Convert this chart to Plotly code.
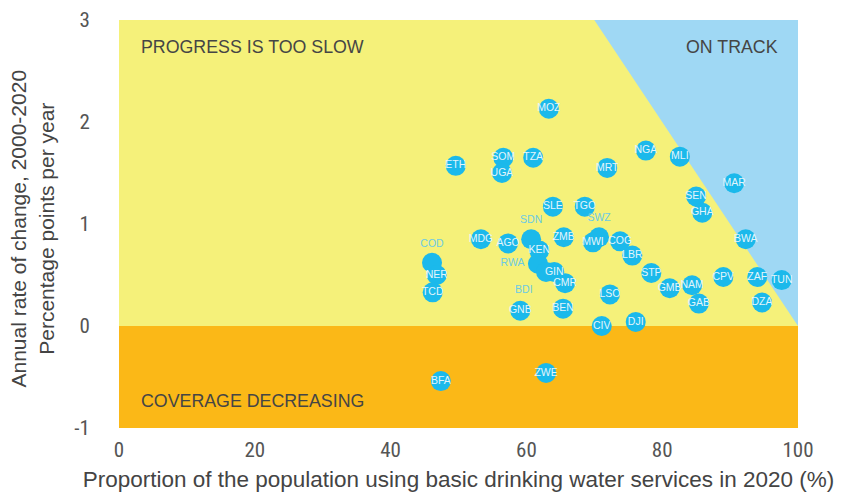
import plotly.graph_objects as go

codes = ["MOZ","ETH","SOM","UGA","TZA","MRT","NGA","MLI","MAR","SEN","GHA","SLE","TGO","BWA",
         "SDN","KEN","RWA","BDI","GIN","CMR","MDG","AGO","ZMB","MWI","SWZ","COG","LBR",
         "COD","NER","TCD","LSO","GNB","BEN","CIV","DJI","STP","GMB","NAM","GAB","CPV",
         "ZAF","TUN","DZA","BFA","ZWE"]
coverage = [63.3,49.6,56.6,56.4,61.0,71.9,77.6,82.6,90.6,85.0,85.9,63.9,68.6,92.3,
            60.7,61.9,61.7,62.9,64.1,65.7,53.3,57.3,65.5,69.8,70.7,73.8,75.6,
            46.1,46.8,46.2,72.3,59.1,65.4,71.1,76.1,78.4,81.1,84.4,85.4,89.0,
            94.0,97.6,94.7,47.4,62.9]
rate = [2.13,1.57,1.65,1.50,1.65,1.55,1.72,1.66,1.40,1.27,1.11,1.17,1.17,0.85,
        0.85,0.74,0.61,0.53,0.53,0.42,0.85,0.81,0.87,0.82,0.87,0.83,0.69,
        0.62,0.50,0.33,0.31,0.15,0.17,0.00,0.04,0.52,0.37,0.40,0.22,0.48,
        0.48,0.45,0.23,-0.54,-0.46]
outside_labels = {"SDN": "top center", "SWZ": "top center", "COD": "top center",
                  "RWA": "middle left", "BDI": "bottom left"}

xticks = [0, 20, 40, 60, 80, 100]
yticks = [-1, 0, 1, 2, 3]
ytick_labels = ["-1", "0", "1", "2", "3"]

positions = [outside_labels.get(c, "middle center") for c in codes]
text_colors = ["#6ccbe4" if c in outside_labels else "#e3f5fb" for c in codes]

fig = go.Figure()
fig.add_trace(go.Scatter(
    x=coverage, y=rate, mode="markers+text", text=codes,
    textposition=positions,
    textfont=dict(family="Arial, Liberation Sans, sans-serif", size=10.5, color=text_colors),
    marker=dict(size=20, color="#1bb9eb", line=dict(width=0)),
    hoverinfo="text", showlegend=False, cliponaxis=False,
))

shapes = [
    dict(type="rect", xref="x", yref="y", x0=0, x1=100, y0=0, y1=3,
         fillcolor="#f5f17a", line=dict(width=0), layer="below"),
    dict(type="rect", xref="x", yref="y", x0=0, x1=100, y0=-1, y1=0,
         fillcolor="#fbb817", line=dict(width=0), layer="below"),
    dict(type="path", xref="x", yref="y", path="M 70,3 L 100,3 L 100,0 Z",
         fillcolor="#9fd8f4", line=dict(width=0), layer="below"),
]

annfont = dict(family="Arial, Liberation Sans, sans-serif", size=17.8, color="#454545")
annotations = [
    dict(x=2.9, y=2.74, xref="x", yref="y", text="PROGRESS IS TOO SLOW", showarrow=False,
         xanchor="left", font=annfont),
    dict(x=97.3, y=2.74, xref="x", yref="y", text="ON TRACK", showarrow=False,
         xanchor="right", font=annfont),
    dict(x=2.9, y=-0.74, xref="x", yref="y", text="COVERAGE DECREASING", showarrow=False,
         xanchor="left", font=annfont),
    dict(x=-0.1275, y=0.49, xref="paper", yref="paper", textangle=-90,
         text="Annual rate of change, 2000-2020<br>Percentage points per year",
         showarrow=False, xanchor="center", yanchor="middle",
         font=dict(family="Arial, Liberation Sans, sans-serif", size=21, color="#444444")),
]

tickfont = dict(family="Liberation Sans Narrow, Roboto Condensed, Arial Narrow, Arial", size=21, color="#555555")
fig.update_layout(
    width=841, height=488,
    margin=dict(l=111, r=51, t=12, b=68, autoexpand=False),
    paper_bgcolor="white", plot_bgcolor="white",
    shapes=shapes, annotations=annotations,
    xaxis=dict(range=[0, 100], tickvals=xticks, showgrid=False, zeroline=False, showline=False,
               automargin=False,
               tickfont=tickfont, ticks="outside", ticklen=3, tickcolor="rgba(0,0,0,0)",
               title=dict(text="Proportion of the population using basic drinking water services in 2020 (%)",
                          font=dict(family="Arial, Liberation Sans, sans-serif", size=22.5, color="#444444"),
                          standoff=10)),
    yaxis=dict(range=[-1, 3], tickvals=yticks, ticktext=ytick_labels,
               showgrid=False, zeroline=False, showline=False,
               automargin=False,
               tickfont=tickfont, ticks="outside", ticklen=24, tickcolor="rgba(0,0,0,0)"),
)

fig.write_html("out.html")
